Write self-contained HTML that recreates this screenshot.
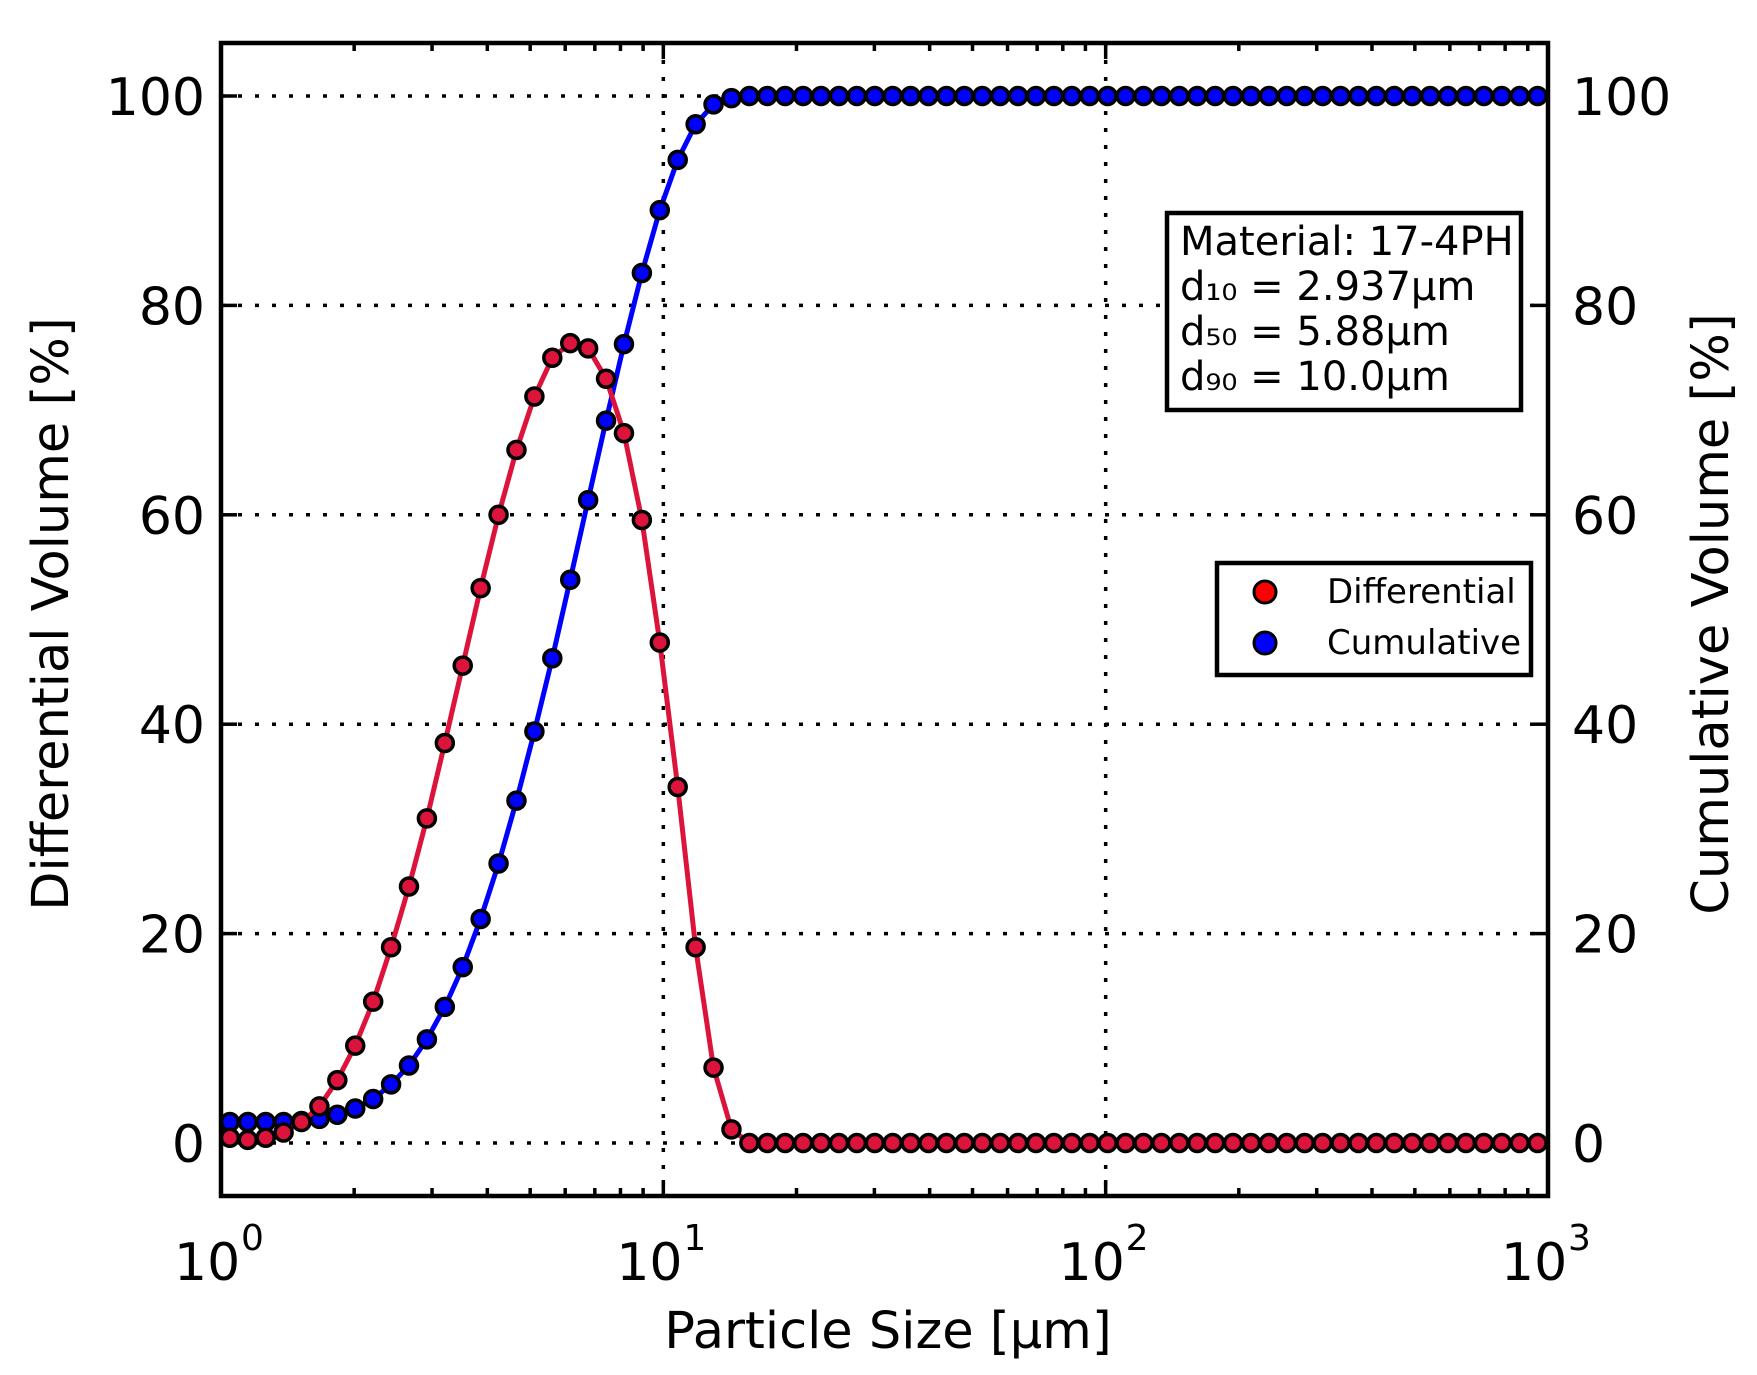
<!DOCTYPE html>
<html><head><meta charset="utf-8"><style>
html,body{margin:0;padding:0;background:#fff;}
svg{display:block;font-family:"DejaVu Sans","Liberation Sans",sans-serif;}
</style></head><body>
<svg id="s" width="1757" height="1375" viewBox="0 0 1757 1375" xmlns="http://www.w3.org/2000/svg">
<rect width="1757" height="1375" fill="#fff"/>
<g id="grid" stroke="#000" stroke-width="3.5" stroke-dasharray="4,13"></g>
<g id="ticks" stroke="#000" stroke-width="3.5"></g>
<g id="series"></g>
<rect x="221" y="43" width="1327" height="1153" fill="none" stroke="#000" stroke-width="4.5"/>
<g id="labels" font-size="52" fill="#000"></g>
<text x="888" y="1348" font-size="51" text-anchor="middle">Particle Size [μm]</text>
<text transform="translate(68,614) rotate(-90)" font-size="51" text-anchor="middle">Differential Volume [%]</text>
<text transform="translate(1728,614) rotate(-90)" font-size="51" text-anchor="middle">Cumulative Volume [%]</text>
<rect x="1167" y="213" width="354" height="197" fill="#fff" stroke="#000" stroke-width="4.5"/>
<g font-size="40">
<text x="1180" y="255">Material: 17-4PH</text>
<text x="1180" y="300">d₁₀ = 2.937μm</text>
<text x="1180" y="345">d₅₀ = 5.88μm</text>
<text x="1180" y="390">d₉₀ = 10.0μm</text>
</g>
<rect x="1217" y="563" width="314" height="112" fill="#fff" stroke="#000" stroke-width="4.5"/>
<circle cx="1265" cy="592" r="11" fill="#ff0000" stroke="#000" stroke-width="3"/>
<circle cx="1265" cy="643" r="11" fill="#0000ff" stroke="#000" stroke-width="3"/>
<g font-size="34"><text x="1327" y="603">Differential</text><text x="1327" y="654">Cumulative</text></g>
</svg>
<script>
var NS="http://www.w3.org/2000/svg";
function el(p,t,a,txt){var e=document.createElementNS(NS,t);for(var k in a)e.setAttribute(k,a[k]);if(txt!==undefined)e.textContent=txt;document.getElementById(p).appendChild(e);return e;}
var L=221,R=1548,T=43,B=1196;
function X(d){return L+d*(R-L)/3;}
function Y(v){return 1143-v*10.47;}
for(var d=1;d<3;d++)el("grid","line",{x1:X(d),x2:X(d),y1:T,y2:B});
for(var v=0;v<=100;v+=20)el("grid","line",{x1:L,x2:R,y1:Y(v),y2:Y(v)});
for(var d=0;d<3;d++){for(var m=1;m<10;m++){var x=X(d+Math.log10(m));var len=m==1?16:8;
 el("ticks","line",{x1:x,x2:x,y1:B,y2:B-len});el("ticks","line",{x1:x,x2:x,y1:T,y2:T+len});}}
for(var v=0;v<=100;v+=20){el("ticks","line",{x1:L,x2:L+16,y1:Y(v),y2:Y(v)});el("ticks","line",{x1:R,x2:R-16,y1:Y(v),y2:Y(v)});}
for(var v=0;v<=100;v+=20){el("labels","text",{x:205,y:Y(v)+19,"text-anchor":"end"},String(v));el("labels","text",{x:1572,y:Y(v)+19},String(v));}
for(var d=0;d<=3;d++){el("labels","text",{x:X(d)-47,y:1280},"10");el("labels","text",{x:X(d)+20,y:1250,"font-size":"36"},String(d));}
var red=[0.5,0.3,0.5,1,2,3.5,6,9.3,13.5,18.7,24.5,31,38.2,45.6,53,60,66.2,71.3,75,76.4,75.9,73,67.8,59.5,47.8,34,18.7,7.2,1.3];
var blue=[2,2,2,2,2.1,2.3,2.7,3.3,4.2,5.6,7.4,9.9,13,16.8,21.4,26.7,32.7,39.3,46.3,53.8,61.4,69,76.3,83.1,89.1,93.9,97.3,99.2,99.8];
var N=74,xs=[];for(var i=0;i<N;i++)xs.push(0.02+0.0405*i);
function val(a,i,def){return i<a.length?a[i]:def;}
function draw(a,def,col){var pts=[];for(var i=0;i<N;i++)pts.push(X(xs[i]).toFixed(1)+","+Y(val(a,i,def)).toFixed(1));
 el("series","polyline",{points:pts.join(" "),fill:"none",stroke:col,"stroke-width":5,"stroke-linejoin":"round"});
 for(var i=0;i<N;i++)el("series","circle",{cx:X(xs[i]),cy:Y(val(a,i,def)),r:8.5,fill:col,stroke:"#000","stroke-width":3.5});}
draw(blue,100,"#0000ff");
draw(red,0,"#dc143c");
</script>
</body></html>
